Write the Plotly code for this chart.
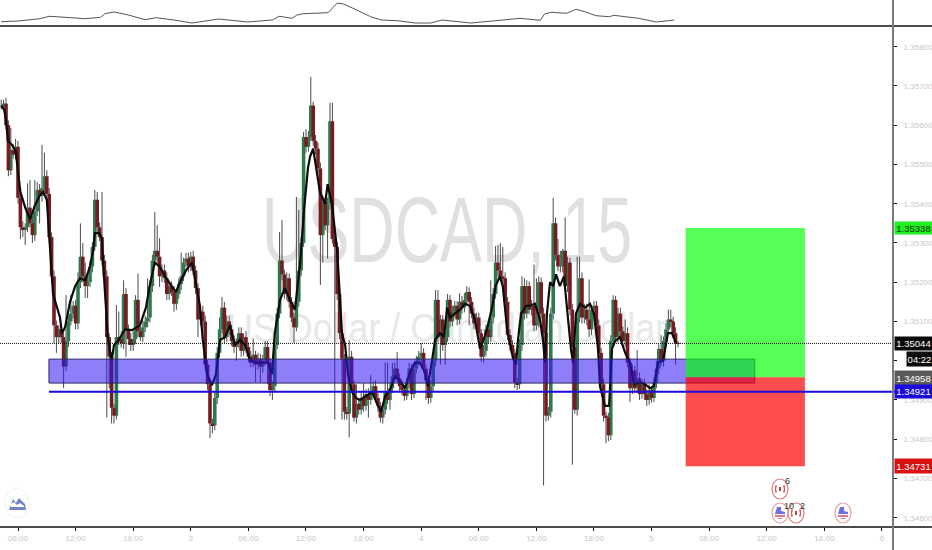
import plotly.graph_objects as go

W, H = 932, 550
BASE = 1.35
PT = 1e-5

# Closing prices, in points (0.00001) away from 1.35000, one per 15-minute bar
close_pts = [
650,655,600,485,537,525,545,415,340,335,
340,390,350,320,380,435,420,440,470,425,
315,215,90,60,80,60,-15,50,100,120,
140,95,200,265,215,190,200,240,290,410,
340,315,255,215,60,10,-120,-140,60,55,
45,170,80,55,40,55,155,75,60,85,
100,110,190,255,280,265,215,230,210,170,
190,175,145,170,195,215,250,260,240,265,
230,185,105,125,100,-10,-60,-160,-165,-95,
20,80,135,60,100,80,50,35,45,70,
25,60,35,10,-5,15,-10,5,-15,0,
35,-5,-75,-65,40,120,255,220,170,210,
150,110,85,150,230,300,570,545,570,650,
560,540,490,320,405,345,400,610,310,290,
170,70,5,-130,-135,10,-60,-145,-110,-125,
-95,-115,-85,-100,-80,-65,-95,-115,-145,-125,
-80,-100,-70,-40,-20,-45,-65,-75,-90,-55,
-20,-85,-20,0,10,20,-20,-50,-95,-65,
0,155,60,105,40,60,155,100,125,140,
105,150,135,155,175,150,120,95,110,70,
10,25,80,60,110,170,250,230,215,210,
150,65,40,20,-55,-60,40,190,120,190,
130,140,90,100,200,120,70,-140,-130,120,
350,270,240,240,280,190,250,130,35,-125,
110,210,110,130,105,80,130,140,90,20,
-60,-140,-145,-190,50,155,60,120,75,50,
70,-5,-70,-25,-70,-45,-85,-60,-85,-100,
-75,-95,-55,-20,30,0,50,80,105,100,
70,45,44]

upper_wick = [
15,10,15,12,56,15,20,15,12,15,
10,62,70,20,80,20,15,110,60,15,
15,12,15,12,10,10,12,117,15,47,
12,15,25,85,35,35,18,15,12,25,
20,12,115,15,15,10,12,10,82,65,
20,35,15,12,15,20,12,67,15,18,
15,100,15,15,99,65,47,15,15,15,
12,12,15,12,15,60,12,15,15,12,
15,12,12,12,15,15,12,10,12,15,
15,30,27,15,15,15,12,15,12,15,
15,10,15,12,15,42,10,15,12,15,
15,15,12,12,15,15,73,103,12,15,
12,12,12,267,154,15,13,20,15,73,
10,15,15,15,15,12,15,47,47,20,
12,12,10,12,12,43,15,10,50,12,
15,38,12,15,43,12,15,12,10,12,
75,75,15,35,15,42,12,15,12,12,
15,12,15,12,15,25,12,10,12,15,
15,25,25,12,12,15,15,12,15,12,
12,22,15,17,15,12,12,15,12,12,
10,15,12,15,95,15,42,45,70,75,
15,12,15,12,10,12,15,25,20,15,
12,15,105,110,15,12,15,12,12,15,
65,15,40,40,5,85,15,12,15,12,
155,55,15,15,15,102,12,12,12,15,
12,15,10,12,15,12,10,15,15,12,
35,15,12,15,12,72,15,12,15,12,
15,10,12,20,12,35,12,15,25,25,
12,15,5]

lower_wick = [
10,12,10,15,12,10,12,15,30,20,
40,12,10,20,15,12,70,15,12,15,
12,15,45,40,15,15,55,12,15,10,
12,15,15,15,15,30,30,12,15,10,
12,10,12,15,205,80,40,20,10,15,
12,15,70,15,15,15,12,15,10,12,
12,15,12,15,12,15,27,15,12,15,
15,10,20,15,12,15,12,10,15,12,
12,15,45,15,15,15,15,37,20,12,
15,12,10,15,12,15,12,15,35,12,
15,12,15,15,12,12,45,12,40,15,
12,55,15,25,12,10,12,15,12,15,
15,12,40,10,12,15,10,15,12,10,
12,15,12,127,70,12,85,15,12,440,
15,15,155,20,15,60,12,10,15,12,
12,15,12,45,12,10,12,15,12,15,
12,10,25,12,15,10,15,12,12,10,
15,15,10,12,12,15,12,50,15,12,
12,15,12,70,15,50,12,15,12,15,
15,12,15,12,15,60,12,15,25,15,
12,15,12,15,12,15,12,15,12,10,
15,12,15,12,15,15,12,15,15,12,
12,15,15,12,15,12,388,15,12,15,
15,15,12,15,15,12,15,15,300,10,
15,12,15,15,15,20,15,12,15,15,
12,15,65,15,12,15,12,15,15,12,
15,12,35,15,12,12,15,12,15,15,
12,12,10,15,15,12,15,15,12,15,
12,55,10]

# Moving average read at the bar numbers in ma_bar
ma_bar = [0,1.2,2,2.8,4.5,6,8,10,12,14,16,17.5,19,20.3,21.6,24.5,25.3,26.6,28.7,30.8,32.8,35,37,38.3,39,41,42,42.4,43.3,44.5,46,47,48.7,51.6,54.5,57.8,60.3,62,64,66,68.3,71,72.8,74.5,77,79.5,80.8,82.8,84,85.8,87.8,89.5,91.2,93.3,95.3,97.4,99.5,101.6,103.7,106,108.7,111.2,112.8,114,116.2,118.2,120.3,122.4,124.5,126.2,127.8,128.7,130,131.2,132.8,135,136,137.8,139,140,141.2,142,143.3,144.5,146.2,147.8,149.5,152,154.5,157,158.3,160,162,164,166,168.3,170.3,172.4,174.5,176.6,177.8,179.5,180.8,182.8,184.5,185.8,187,189,191.2,193.3,195.3,197.4,199.5,200.8,202.4,204.5,206,207.8,209,210.8,213.3,214.5,215.3,216.6,218.7,220.3,222.4,224.5,225.8,226.6,227.4,228.7,230,231.2,232.8,234.5,235.8,237.4,238.3,239.5,241.2,243.3,245.3,247,248.7,249.5,251.6,253.3,254.5,255.8,257.8,260,262,263.7,266.2,268.3,270.3,272,273.7,275.8,277.8,279.5,281.2]
ma_pts = [650,640,615,560,550,535,430,390,360,395,420,430,410,290,170,110,70,85,150,190,210,205,240,280,325,325,310,255,165,53,0,40,50,80,78,90,135,195,250,240,215,190,175,200,230,250,205,140,53,-35,-62,-35,53,60,90,40,53,40,2,-5,-5,-5,-35,70,155,185,155,130,245,385,490,520,540,495,430,400,450,400,335,280,155,70,40,-35,-80,-95,-100,-90,-80,-115,-130,-90,-75,-40,-50,-70,-30,-5,-5,-30,-65,0,53,70,60,135,110,120,130,145,140,105,30,50,80,135,190,215,190,80,5,-10,50,120,140,140,145,105,50,-5,120,200,190,220,190,215,130,30,-5,120,145,135,145,120,30,-65,-115,-115,30,50,60,20,-5,-60,-55,-60,-70,-65,-5,0,70,70,45]

# Indicator in the narrow pane above the price chart
ind_bar = [0,7,16.2,20,29.3,34.8,41.4,43.2,47,52.5,60,64.6,72,79.5,90.6,102.7,113,115.8,121.3,123.2,126,131.6,136.2,140,142.7,146.4,153.9,158.5,165,172.5,179,183.7,195.7,206,216.2,224.6,226.4,229.2,235.7,239.5,243.2,247.8,253.4,255.3,265.5,273,280.4]
ind_val = [4.3,5,7.3,9.7,8.3,7.3,8.7,12.3,14,11.3,6.3,8.3,6,3,7,4,6,9.7,7.7,11,12.3,12.7,13.3,23,22,18,9.3,6,5.3,3,3,6,3,5.3,7.7,5.7,12,13.7,12.7,16.7,14.3,10.3,9.3,10.7,7.7,4,6]

tick_bars = [7,31,55,79,103,127,151,175,199,223,247,271,295,319,343,367]
tick_labels = ["06:00","12:00","18:00","3","06:00","12:00","18:00","4","06:00","12:00","18:00","5","06:00","12:00","18:00","6"]
price_ticks = [1.346,1.347,1.348,1.349,1.350,1.351,1.352,1.353,1.354,1.355,1.356,1.357,1.358]
price_tick_labels = ["1.34600","1.34700","1.34800","1.34900","","1.35100","1.35200","1.35300","1.35400","1.35500","1.35600","1.35700","1.35800"]

PRICE_LAST = 1.35044
PRICE_TARGET = 1.35338
PRICE_ENTRY = 1.34958
PRICE_LEVEL = 1.34921
PRICE_STOP = 1.34731
ZONE_TOP, ZONE_BOTTOM = 1.35004, 1.34943
ZONE_BARS = (19.9, 314)
POS_BARS = (285.2, 334.9)

closes = [BASE + c * PT for c in close_pts]
opens = [closes[0]] + closes[:-1]
highs = [max(o, c) + u * PT for o, c, u in zip(opens, closes, upper_wick)]
lows = [min(o, c) - d * PT for o, c, d in zip(opens, closes, lower_wick)]
bars = list(range(len(closes)))

GREEN, RED = "#2f7a4c", "#741c22"
WICK = "#4a4a4a"
BAR_W = 1.5


def px(x):
    return x / W


def py(y):
    return 1 - y / H


wx, wy = [], []
for i, hi, lo in zip(bars, highs, lows):
    wx += [i, i, None]
    wy += [lo, hi, None]

up = [i for i in bars if closes[i] >= opens[i]]
dn = [i for i in bars if closes[i] < opens[i]]

fig = go.Figure()
fig.add_trace(go.Scatter(x=[185.8], y=[1.3531], mode="text", text=["USDCAD, 15"], zorder=-1,
                         textfont=dict(family="Liberation Sans", size=93, color="#e0e0e0"),
                         textposition="middle center", hoverinfo="skip"))
fig.add_trace(go.Scatter(x=[185.8], y=[1.35075], mode="text", text=["US Dollar / Canadian Dollar"], zorder=-1,
                         textfont=dict(family="Liberation Sans", size=41, color="#e8e8e8"),
                         textposition="middle center", hoverinfo="skip"))
fig.add_trace(go.Scatter(x=wx, y=wy, mode="lines", line=dict(color=WICK, width=1), zorder=1, hoverinfo="skip"))
fig.add_trace(go.Bar(x=up, y=[closes[i] - opens[i] for i in up], base=[opens[i] for i in up], width=BAR_W,
                     marker=dict(color=GREEN, line=dict(width=0)), zorder=2))
fig.add_trace(go.Bar(x=dn, y=[opens[i] - closes[i] for i in dn], base=[closes[i] for i in dn], width=BAR_W,
                     marker=dict(color=RED, line=dict(width=0)), zorder=2))
fig.add_trace(go.Scatter(x=ma_bar, y=[BASE + m * PT for m in ma_pts], mode="lines", zorder=3,
                         line=dict(color="#0c0c0c", width=2.2), hoverinfo="skip"))
fig.add_trace(go.Scatter(x=ind_bar, y=ind_val, yaxis="y2", mode="lines",
                         line=dict(color="#555555", width=1), hoverinfo="skip"))

shapes = []
shapes.append(dict(type="rect", xref="x", yref="y", x0=ZONE_BARS[0], x1=ZONE_BARS[1], y0=ZONE_BOTTOM, y1=ZONE_TOP,
                   fillcolor="rgba(50,20,245,0.55)", line=dict(color="#2c2466", width=1)))
shapes.append(dict(type="rect", xref="x", yref="y", x0=POS_BARS[0], x1=POS_BARS[1], y0=PRICE_ENTRY, y1=PRICE_TARGET,
                   fillcolor="rgba(0,255,0,0.667)", line=dict(width=0)))
shapes.append(dict(type="rect", xref="x", yref="y", x0=POS_BARS[0], x1=POS_BARS[1], y0=PRICE_STOP, y1=PRICE_ENTRY,
                   fillcolor="rgba(255,0,0,0.7)", line=dict(width=0)))
shapes.append(dict(type="line", xref="paper", yref="y", x0=0, x1=px(893), y0=PRICE_LAST, y1=PRICE_LAST,
                   line=dict(color="#111111", width=1, dash="1px,1px")))
shapes.append(dict(type="line", xref="paper", yref="y", x0=px(49), x1=1, y0=PRICE_LEVEL, y1=PRICE_LEVEL,
                   line=dict(color="#1a0adb", width=2)))
# pane rules and price-scale line
for yy in (26, 527):
    shapes.append(dict(type="line", xref="paper", yref="paper", x0=0, x1=1, y0=py(yy), y1=py(yy),
                       line=dict(color="#111111", width=1.5)))
shapes.append(dict(type="line", xref="paper", yref="paper", x0=px(893), x1=px(893), y0=0, y1=1,
                   line=dict(color="#7a7a7a", width=2)))


def oval(cx, cy, rx, ry, line, fill="white", lw=1.2):
    shapes.append(dict(type="circle", xref="paper", yref="paper", x0=px(cx - rx), x1=px(cx + rx),
                       y0=py(cy + ry), y1=py(cy - ry), fillcolor=fill, line=dict(color=line, width=lw)))


def poly(points, color):
    d = "M " + " L ".join(f"{px(a):.5f},{py(b):.5f}" for a, b in points) + " Z"
    shapes.append(dict(type="path", xref="paper", yref="paper", path=d, fillcolor=color, line=dict(width=0)))


def flag(cx, cy):
    oval(cx, cy, 8, 10, "#eba0a0")
    poly([(cx - 5, cy + 1), (cx - 3, cy - 6), (cx + 1, cy - 6), (cx + 1, cy - 2), (cx + 5, cy - 1), (cx + 5, cy + 1)], "#6f6fe0")
    poly([(cx - 5, cy + 2), (cx + 5, cy + 2), (cx + 5, cy + 4), (cx - 5, cy + 4)], "#e07a8a")
    poly([(cx - 2, cy + 5), (cx + 2, cy + 5), (cx + 2, cy + 6), (cx - 2, cy + 6)], "#e07a8a")


def waves(cx, cy):
    oval(cx, cy, 8, 10, "#d98080")
    poly([(cx - 1, cy - 2), (cx + 1, cy - 2), (cx + 1, cy + 2), (cx - 1, cy + 2)], "#c04040")
    poly([(cx - 5, cy - 3), (cx - 4, cy - 4), (cx - 3, cy - 3), (cx - 4, cy), (cx - 3, cy + 3), (cx - 4, cy + 4), (cx - 5, cy + 3)], "#d66060")
    poly([(cx + 3, cy - 3), (cx + 4, cy - 4), (cx + 5, cy - 3), (cx + 5, cy + 3), (cx + 4, cy + 4), (cx + 3, cy + 3), (cx + 4, cy)], "#d66060")


oval(17, 503, 12, 15, "#f2f2ea", lw=1)
poly([(9, 510), (13, 499), (16, 503), (19, 498), (25, 504), (26, 510)], "#6f84c8")
poly([(11, 504), (14, 502), (17, 505), (20, 503), (24, 506), (24, 507), (11, 507)], "#ffffff")
waves(780, 489)
flag(780, 513)
waves(796, 513)
flag(843, 513)

annos = []


def tag(text, y0, y1, bg, fg="white", x0=894):
    annos.append(dict(xref="paper", yref="paper", x=px(x0), y=py((y0 + y1) / 2), xanchor="left", yanchor="middle",
                      width=931 - x0, height=y1 - y0, text=text, showarrow=False, bgcolor=bg, borderpad=0,
                      align="center", valign="middle", font=dict(family="Liberation Sans", size=9.5, color=fg)))


tag(f"{PRICE_TARGET:.5f}", 222, 234, "#1fee1f", "#103010")
tag(f"{PRICE_LAST:.5f}", 337, 350, "#0b0b0b")
tag("04:22", 352, 366, "#0b0b0b", x0=906)
tag(f"{PRICE_ENTRY:.5f}", 371, 385, "#5a5a5a")
tag(f"{PRICE_LEVEL:.5f}", 385, 398, "#1a0adb")
tag(f"{PRICE_STOP:.5f}", 459, 473, "#d81010")
for text, x, y in (("6", 787, 481), ("10", 789, 506), ("2", 802, 506)):
    annos.append(dict(xref="paper", yref="paper", x=px(x), y=py(y), xanchor="center", yanchor="middle",
                      showarrow=False, text=text, font=dict(family="Liberation Sans", size=9, color="#333333")))

fig.update_layout(
    width=W, height=H, margin=dict(l=0, r=0, t=0, b=0, pad=0), autosize=False,
    paper_bgcolor="white", plot_bgcolor="white", showlegend=False, barmode="overlay",
    font=dict(family="Liberation Sans"), shapes=shapes, annotations=annos,
    xaxis=dict(domain=[0, px(893)], range=[-0.5, 371.6], showgrid=False, zeroline=False, tickmode="array",
               tickvals=tick_bars, ticktext=tick_labels, ticks="outside", ticklen=3, tickcolor="#111111", tickwidth=1,
               tickfont=dict(size=8, color="#c8c8c8"), showline=False, anchor="y", fixedrange=True),
    yaxis=dict(domain=[py(527), py(27)], range=[1.345763, 1.358502], side="right", showgrid=False, zeroline=False,
               tickmode="array", tickvals=price_ticks, ticktext=price_tick_labels, ticks="outside", ticklen=3,
               tickcolor="#111111", tickwidth=1, tickfont=dict(size=8, color="#c8c8c8"),
               ticklabelstandoff=5, showline=False, fixedrange=True),
    yaxis2=dict(domain=[py(26), 1], range=[0, 26], visible=False, anchor="x", fixedrange=True),
)

# The reference's watermark is set in a tighter cut: fit the two text lines to the widths it shows.
post = """
document.body.style.margin='0';
var widths = {'USDCAD, 15': 370, 'US Dollar / Canadian Dollar': 440};
document.querySelectorAll('.textpoint text').forEach(function (t) {
  var w = widths[t.textContent];
  if (w) { t.setAttribute('textLength', w); t.setAttribute('lengthAdjust', 'spacingAndGlyphs'); }
});
"""
fig.write_html("out.html", config=dict(displayModeBar=False), post_script=post)
